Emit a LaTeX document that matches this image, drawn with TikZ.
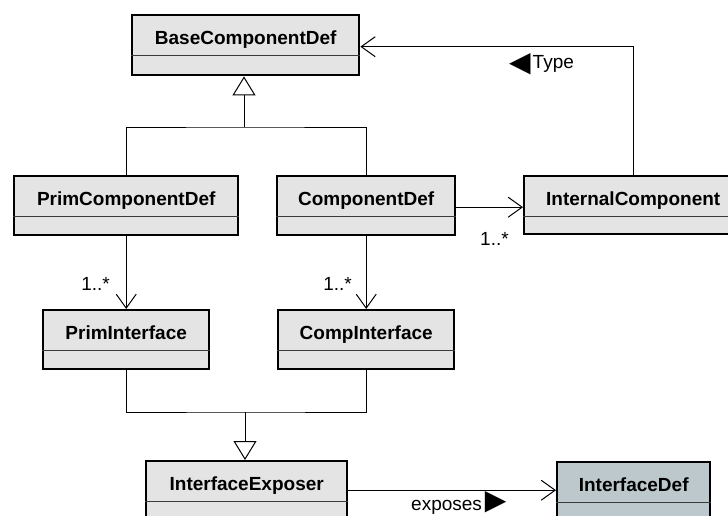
\documentclass[tikz,border=0pt]{standalone}
\usepackage{fontspec}
\setmainfont{Liberation Sans}
\newfontfamily\glyphfont{DejaVu Sans}
\newcommand\trifont{\glyphfont\fontsize{28}{28}\selectfont}
\usetikzlibrary{arrows.meta,calc}
\definecolor{classfill}{HTML}{E4E4E4}
\definecolor{ifacefill}{HTML}{BCC8CC}
\definecolor{rulegray}{HTML}{3A3A3A}
\tikzset{
  classbox/.style={draw=black, line width=2.4pt, fill=classfill, anchor=north west,
    inner sep=0pt, outer sep=1.2pt},
  classname/.style={font=\bfseries\fontsize{19}{19}\selectfont, anchor=base, inner sep=0pt},
  divider/.style={draw=rulegray, line width=1pt},
  conn/.style={draw=black, line width=1pt},
  assoc/.style={conn, -{Straight Barb[length=14pt, width=20pt]}},
  gen/.style={conn, -{Triangle[open, fill=white, length=19pt, width=23pt]}},
  mult/.style={font=\fontsize{19}{19}\selectfont, inner sep=0pt},
}
% class box: name, left, top, right, bottom, fill colour, title
\newcommand\classdef[7]{%
  \node[classbox, fill=#6, minimum width=#4-#2, minimum height=#5-#3] (#1) at (#2,#3) {};
  \draw[divider] ($(#1.north west)+(0,41)$) -- ($(#1.north east)+(0,41)$);
  \node[classname] (#1-name) at ($(#1.north)+(0,30)$) {#7};
}
\begin{document}
\begin{tikzpicture}[x=1pt, y=-1pt]
  \useasboundingbox (0,0) rectangle (728,515);
  \clip (0,0) rectangle (728,515);

  % classes
  \classdef{base}{131}{14}{358}{74}{classfill}{BaseComponentDef}
  \classdef{prim}{13}{175}{237}{234}{classfill}{PrimComponentDef}
  \classdef{comp}{276}{175}{454}{234}{classfill}{ComponentDef}
  \classdef{internal}{523}{175}{741}{233}{classfill}{InternalComponent}
  \classdef{primif}{42}{309}{208}{368}{classfill}{PrimInterface}
  \classdef{compif}{277}{309}{453}{368}{classfill}{CompInterface}
  \classdef{exposer}{145}{460}{346}{518}{classfill}{InterfaceExposer}
  \classdef{ifdef}{556}{461}{709}{517}{ifacefill}{InterfaceDef}

  % generalisation towards BaseComponentDef
  \coordinate (gj) at (244,127);
  \draw[conn] (prim.north) |- (gj) -| (comp.north);
  \draw[gen] (gj) -- (gj |- base.south);

  % generalisation towards InterfaceExposer
  \coordinate (ij) at (245,412);
  \draw[conn] (primif.south) |- (ij) -| (compif.south);
  \draw[gen] (ij) -- (ij |- exposer.north);

  % associations
  \draw[assoc] (prim.south) -- (primif.north);
  \draw[assoc] (comp.south) -- (compif.north);
  \draw[assoc] ([yshift=-1.5pt]comp.east) -- ([yshift=-1.5pt]comp.east -| internal.west);
  \draw[assoc] (internal.north) |- ([yshift=-1.5pt]base.east);
  \draw[assoc] (exposer.east) -- (ifdef.west);

  % multiplicities and role names
  \node[mult, anchor=base east] (m-prim) at (110,290) {1..*};
  \node[mult, anchor=base east] (m-comp) at (352,290) {1..*};
  \node[mult, anchor=base west] (m-int) at (480,245) {1..*};
  \node[mult, anchor=base west] (l-type) at (509,68)
    {\raisebox{-3pt}{\trifont\char"25C0}\hspace{2pt}Type};
  \node[mult, anchor=base west] (l-exp) at (411,510)
    {exposes\hspace{3pt}\raisebox{1pt}{\trifont\char"25B6}};
\end{tikzpicture}
\end{document}
